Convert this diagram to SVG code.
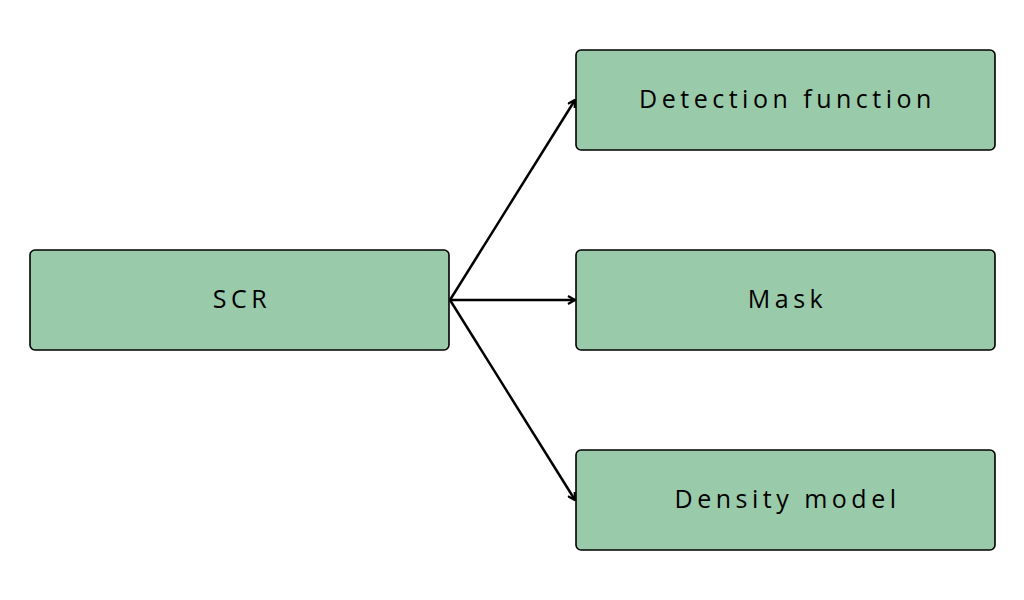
<svg xmlns="http://www.w3.org/2000/svg" width="1024" height="600" viewBox="0 0 1024 600">
<style>
.box{fill:#99cbaa;stroke:#000;stroke-width:1.6}
.lbl{font-family:"Open Sans",Lato,sans-serif;font-size:25px;letter-spacing:4.5px;fill:#000;text-anchor:middle}
.edge{stroke:#000;stroke-width:2.5;fill:none}
</style>
<defs>
<marker id="arr" viewBox="0 0 10 10" refX="9" refY="5" markerWidth="10" markerHeight="10" markerUnits="userSpaceOnUse" orient="auto">
<path d="M2,1 L9,5 L2,9" fill="none" stroke="#000" stroke-width="2.2"/>
</marker>
</defs>
<rect width="1024" height="600" fill="#fff"/>
<g id="connectors">
<line class="edge" x1="450" y1="300" x2="575" y2="100" marker-end="url(#arr)"/>
<line class="edge" x1="450" y1="300" x2="575" y2="300" marker-end="url(#arr)"/>
<line class="edge" x1="450" y1="300" x2="575" y2="500" marker-end="url(#arr)"/>
</g>
<g id="scr">
<rect class="box" x="30" y="250" width="419" height="100" rx="5"/>
<text class="lbl" x="242" y="308">SCR</text>
</g>
<g id="detection">
<rect class="box" x="576" y="50" width="419" height="100" rx="5"/>
<text class="lbl" x="787.5" y="108">Detection function</text>
</g>
<g id="mask">
<rect class="box" x="576" y="250" width="419" height="100" rx="5"/>
<text class="lbl" x="787.5" y="308">Mask</text>
</g>
<g id="density">
<rect class="box" x="576" y="450" width="419" height="100" rx="5"/>
<text class="lbl" x="787.5" y="508">Density model</text>
</g>
</svg>
